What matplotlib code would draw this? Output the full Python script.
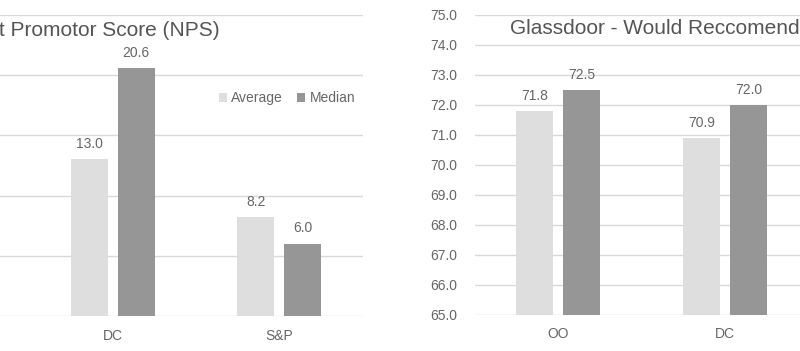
import numpy as np
import matplotlib
matplotlib.use("Agg")
import matplotlib.pyplot as plt

plt.rcParams["font.family"] = ["Liberation Sans", "DejaVu Sans"]

# Net Promotor Score (left chart, first category is cut off in the picture)
nps_cats = ["DC", "S&P"]
nps_avg = [13.0, 8.2]
nps_median = [20.6, 6.0]

# Glassdoor would recommend (right chart, last category is cut off)
gd_cats = ["OO", "DC"]
gd_avg = [71.8, 70.9]
gd_median = [72.5, 72.0]

AVG_CL = "#dedede"
MED_CL = "#969696"
TXT_CL = "#666666"
GRID_CL = "#d9d9d9"

W, H = 800, 351
fig = plt.figure(figsize=(W / 100, H / 100), dpi=100)

bw = 0.222
off = 0.141


def style_axes(ax):
    for s in ax.spines.values():
        s.set_visible(False)
    ax.grid(axis="y", color=GRID_CL, linewidth=1)
    ax.set_axisbelow(True)
    ax.tick_params(axis="both", length=0, colors=TXT_CL, labelsize=10)
    ax.tick_params(axis="x", pad=9)
    ax.tick_params(axis="y", pad=13)


def draw_pair(ax, cats, avg, med, base=0):
    x = np.arange(len(cats))
    b1 = ax.bar(x - off, np.array(avg) - base, bw, bottom=base, color=AVG_CL, label="Average")
    b2 = ax.bar(x + off, np.array(med) - base, bw, bottom=base, color=MED_CL, label="Median")
    for bars, vals in ((b1, avg), (b2, med)):
        ax.bar_label(bars, labels=[f"{v:.1f}" for v in vals], padding=6,
                     color=TXT_CL, fontsize=10)
    ax.set_xticks(x)
    ax.set_xticklabels(cats)
    return b1, b2


# left chart
ax1 = fig.add_axes([-137.5 / W, 35 / H, 500 / W, 301 / H])
style_axes(ax1)
b1, b2 = draw_pair(ax1, nps_cats, nps_avg, nps_median)
ax1.set_xlim(-1.5, 1.5)
ax1.set_ylim(0, 25)
ax1.set_yticks(np.arange(0, 26, 5))
ax1.tick_params(axis="y", labelleft=False)  # labels sit outside the crop
ax1.legend(handles=[b1, b2], loc="center", bbox_to_anchor=(0.849, 0.723),
           ncol=2, frameon=False, fontsize=10, labelcolor=TXT_CL,
           handlelength=0.6, handleheight=0.6, handletextpad=0.3,
           columnspacing=1.0)
fig.text(220 / W, 1 - 30 / H, "Net Promotor Score (NPS)", ha="right", va="center",
         fontsize=15, color="#555555")

# right chart
ax2 = fig.add_axes([475 / W, 36 / H, 500 / W, 300 / H])
style_axes(ax2)
draw_pair(ax2, gd_cats, gd_avg, gd_median, base=65)
ax2.set_xlim(-0.5, 2.5)
ax2.set_ylim(65, 75)
ax2.set_yticks(np.arange(65, 75.5, 1))
ax2.set_yticklabels([f"{v:.1f}" for v in np.arange(65, 75.5, 1)])
fig.text(510 / W, 1 - 29 / H, "Glassdoor - Would Reccomend (%)", ha="left", va="center",
         fontsize=15, color="#555555")

fig.savefig("out.png", dpi=100)
